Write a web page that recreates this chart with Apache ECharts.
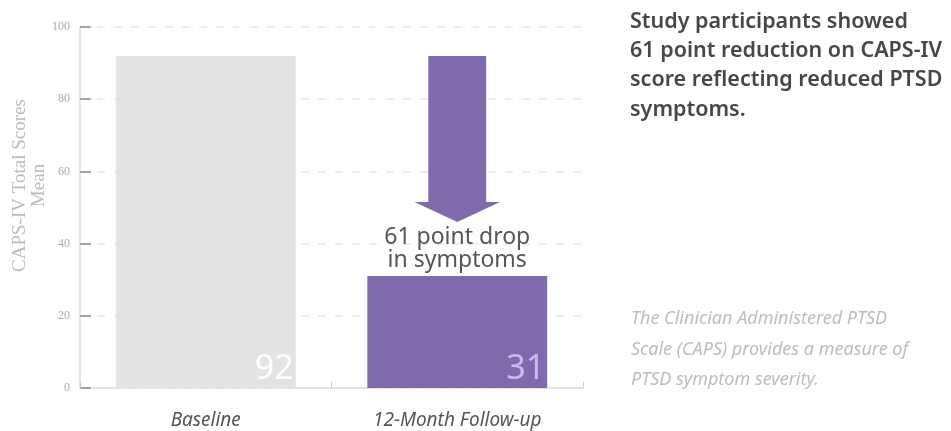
<!DOCTYPE html>
<html>
<head>
<meta charset="utf-8">
<script src="https://cdn.jsdelivr.net/npm/echarts@6/dist/echarts.min.js"></script>
<style>
  html, body { margin: 0; padding: 0; background: #fff; }
  #chart { width: 951px; height: 431px; }
</style>
</head>
<body>
<div id="chart"></div>
<script>
// 数据
const categories = ['Baseline', '12-Month Follow-up']
const scores = [92, 31]
// 箭头: 从基线分数指向下方
const arrowFrom = 92
const arrowTo = 46
const arrowText = '61 point drop\nin symptoms'
const yTicks = [0, 20, 40, 60, 80, 100]

const barColors = ['#e3e3e3', '#7f6aae']
const labelColors = ['#ffffff', '#cbbbed']

const chart = echarts.init(document.getElementById('chart'))

chart.setOption({
  animation: false,
  grid: { left: 80, right: 368, top: 27, bottom: 43, outerBoundsMode: 'none', containLabel: false },
  title: [
    {
      text: 'Study participants showed\n61 point reduction on CAPS-IV\nscore reflecting reduced PTSD\nsymptoms.',
      left: 630,
      top: 7,
      padding: 0,
      textStyle: {
        fontFamily: 'Noto Sans',
        fontSize: 21.5,
        fontWeight: 600,
        color: '#474747',
        lineHeight: 29.3,
      },
    },
    {
      text: 'The Clinician Administered PTSD\nScale (CAPS) provides a measure of\nPTSD symptom severity.',
      left: 631,
      top: 304,
      padding: 0,
      textStyle: {
        fontFamily: 'Noto Sans',
        fontSize: 18,
        fontStyle: 'italic',
        fontWeight: 'normal',
        color: '#bdbdbd',
        lineHeight: 30.5,
      },
    },
  ],
  xAxis: {
    type: 'category',
    data: categories,
    axisLine: { lineStyle: { color: '#dddddd', width: 1.5 } },
    axisTick: { show: true, inside: true, length: 6, lineStyle: { color: '#cccccc' } },
    axisLabel: {
      margin: 23,
      fontFamily: 'Noto Sans',
      fontStyle: 'italic',
      fontSize: 19,
      color: '#555555',
    },
  },
  yAxis: {
    type: 'value',
    min: yTicks[0],
    max: yTicks[yTicks.length - 1],
    interval: 20,
    name: 'CAPS-IV Total Scores\nMean',
    nameLocation: 'middle',
    nameGap: 31,
    nameMoveOverlap: false,
    nameTextStyle: {
      fontFamily: 'Liberation Serif',
      fontSize: 19,
      color: '#bbbbbb',
      lineHeight: 19,
      padding: [0, 0, 0, 44],
    },
    axisLine: { show: true, lineStyle: { color: '#dddddd', width: 1.5 } },
    axisTick: { show: true, inside: true, length: 11, lineStyle: { color: '#8a8a8a', width: 1.5 } },
    axisLabel: {
      margin: 10,
      fontFamily: 'Liberation Serif',
      fontSize: 12,
      color: '#aaaaaa',
    },
    splitLine: { lineStyle: { color: '#e8e8e8', type: [8, 9], width: 1.5 } },
  },
  series: [
    {
      type: 'bar',
      barWidth: '71.5%',
      data: scores.map((v, i) => ({
        value: v,
        itemStyle: { color: barColors[i] },
        label: { color: labelColors[i] },
      })),
      label: {
        show: true,
        position: 'insideBottomRight',
        distance: 2,
        fontFamily: 'Noto Sans',
        fontSize: 34,
        fontWeight: 'normal',
      },
      z: 2,
    },
    {
      type: 'custom',
      z: 3,
      data: [[1, arrowFrom, arrowTo, scores[1]]],
      renderItem(params, api) {
        const top = api.coord([api.value(0), api.value(1)])
        const tip = api.coord([api.value(0), api.value(2)])
        const barTop = api.coord([api.value(0), api.value(3)])
        const band = api.size([1, 0])[0]
        const shaftW = band * 0.23
        const headW = band * 0.34
        const headH = (tip[1] - top[1]) * 0.12
        const cx = top[0]
        return {
          type: 'group',
          children: [
            {
              type: 'polygon',
              shape: {
                points: [
                  [cx - shaftW / 2, top[1]],
                  [cx + shaftW / 2, top[1]],
                  [cx + shaftW / 2, tip[1] - headH],
                  [cx + headW / 2, tip[1] - headH],
                  [cx, tip[1]],
                  [cx - headW / 2, tip[1] - headH],
                  [cx - shaftW / 2, tip[1] - headH],
                ],
              },
              style: { fill: barColors[1] },
            },
            {
              type: 'text',
              x: cx,
              y: barTop[1] - 4,
              style: {
                text: arrowText,
                align: 'center',
                verticalAlign: 'bottom',
                fontFamily: 'Noto Sans',
                fontSize: 23,
                lineHeight: 23,
                fill: '#555555',
              },
            },
          ],
        }
      },
    },
  ],
})
</script>
</body>
</html>
